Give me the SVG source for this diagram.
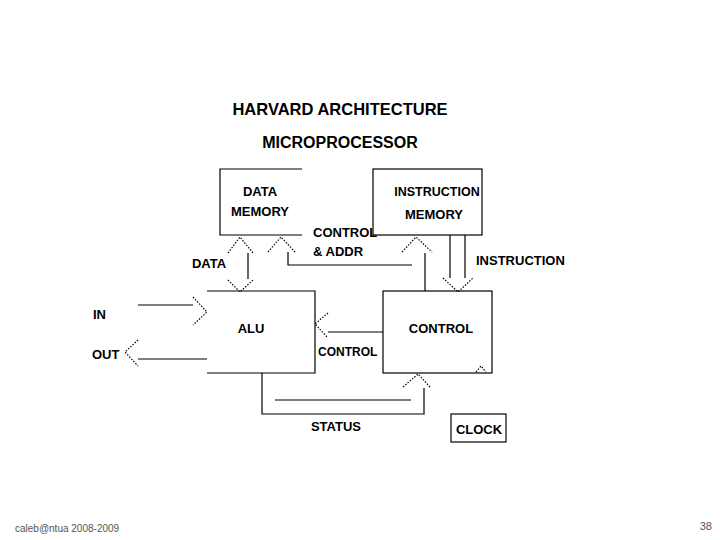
<svg xmlns="http://www.w3.org/2000/svg" width="720" height="540" viewBox="0 0 720 540">
<style>
.t{font-family:"Liberation Sans",Arial,sans-serif;font-weight:bold;fill:#000}
.l{fill:none;stroke:#000;stroke-width:1.2}
.d{fill:none;stroke:#000;stroke-width:1.2;stroke-dasharray:1.5 1.5}
</style>
<rect width="720" height="540" fill="#fff"/>
<text class="t" x="340" y="115" font-size="16.5" text-anchor="middle">HARVARD ARCHITECTURE</text>
<text class="t" x="340" y="148" font-size="16" text-anchor="middle">MICROPROCESSOR</text>
<g id="datamem"><path class="l" d="M302,169H220V235H302"/><text class="t" x="260" y="196" font-size="13" text-anchor="middle">DATA</text><text class="t" x="260" y="216" font-size="13" text-anchor="middle">MEMORY</text></g>
<g id="instrmem"><rect class="l" x="373" y="169" width="109" height="66"/><text class="t" x="437" y="196" font-size="12.5" text-anchor="middle">INSTRUCTION</text><text class="t" x="434" y="219" font-size="13" text-anchor="middle">MEMORY</text></g>
<g id="alu"><path class="l" d="M207,291H315V373H207"/><text class="t" x="251" y="333" font-size="13" text-anchor="middle">ALU</text></g>
<g id="control"><rect class="l" x="383" y="291" width="109" height="82"/><text class="t" x="441" y="333" font-size="13" text-anchor="middle">CONTROL</text><path class="d" d="M476,372L481,366L486,372"/></g>
<g id="clock"><rect class="l" x="451" y="414" width="55" height="28"/><text class="t" x="479" y="434" font-size="13" text-anchor="middle">CLOCK</text></g>
<g id="connectors">
<path class="d" d="M228,253L240,237L253,253"/><line class="l" x1="248" y1="253" x2="248" y2="279"/><path class="d" d="M228,280L240,292L253,280"/>
<path class="d" d="M268,252L281,237L295,252"/><path class="l" d="M288,252V265H412"/>
<path class="d" d="M402,252L416,237L432,252"/><line class="l" x1="425" y1="253" x2="425" y2="291"/>
<path class="l" d="M450,235V278M465,235V278"/><path class="d" d="M443,278L458,292L473,278"/>
<line class="l" x1="138" y1="305" x2="193" y2="305"/><path class="d" d="M193,297L207,312L193,325"/>
<line class="l" x1="207" y1="359" x2="138" y2="359"/><path class="d" d="M138,340L125,352L138,366"/>
<line class="l" x1="383" y1="332" x2="328" y2="332"/><path class="d" d="M328,313L315,324L328,338"/>
<path class="l" d="M262,373V414H424V388"/><path class="d" d="M403,387L418,374L430,387"/>
<line class="l" x1="275" y1="400" x2="411" y2="400"/>
</g>
<text class="t" x="209" y="268" font-size="13" text-anchor="middle">DATA</text>
<text class="t" x="313" y="237" font-size="13">CONTROL</text>
<text class="t" x="313" y="256" font-size="13">&amp; ADDR</text>
<text class="t" x="476" y="265" font-size="13">INSTRUCTION</text>
<text class="t" x="93" y="319" font-size="13">IN</text>
<text class="t" x="92" y="359" font-size="13">OUT</text>
<text class="t" x="318" y="356" font-size="12">CONTROL</text>
<text class="t" x="336" y="431" font-size="13" text-anchor="middle">STATUS</text>
<text x="15" y="532" font-size="10" font-family="Liberation Sans,Arial,sans-serif" fill="#555">caleb@ntua 2008-2009</text>
<text x="712" y="530" font-size="11" font-family="Liberation Sans,Arial,sans-serif" fill="#555" text-anchor="end">38</text>
</svg>
